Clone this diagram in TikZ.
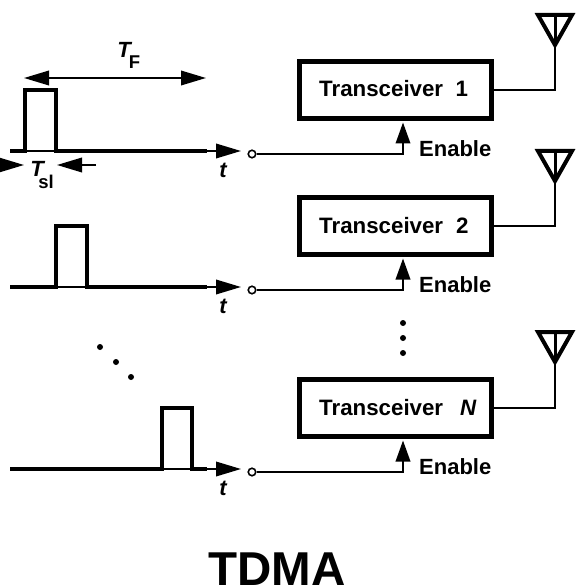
\documentclass[tikz,border=0pt]{standalone}
\usepackage{fontspec}
\setmainfont{Liberation Sans}
\usetikzlibrary{arrows.meta,calc}
\tikzset{
  x=1pt,y=-1pt,
  thickw/.style={line width=4.5pt,line join=miter},
  bigarrow/.style={line width=2pt,-{Triangle[length=25pt,width=14.5pt,sep=0pt]}},
  dblarrow/.style={line width=2pt,{Triangle[length=25pt,width=14.5pt]}-{Triangle[length=25pt,width=14.5pt]}},
  enarrow/.style={line width=2pt,-{Triangle[length=21pt,width=14.5pt]}},
  trx/.style={draw,line width=5pt,minimum width=192pt,minimum height=57pt,inner sep=0pt},
  trxtext/.style={font=\fontsize{22.3}{24}\selectfont\bfseries,inner sep=0pt,anchor=base west},
  lab/.style={font=\fontsize{22}{24}\selectfont\bfseries,inner sep=0pt},
  sym/.style={font=\fontsize{22}{26}\selectfont\bfseries\itshape,inner sep=0pt},
  sub/.style={font=\fontsize{18.5}{22}\selectfont\bfseries,inner sep=0pt},
  term/.style={circle,draw,line width=1.6pt,fill=white,minimum size=7.5pt,inner sep=0pt},
  dotn/.style={circle,fill=black,minimum size=6pt,inner sep=0pt},
  ant/.style={line width=4pt,line join=miter}
}
\begin{document}
\begin{tikzpicture}
\useasboundingbox (0,0) rectangle (578,588);
\clip (0,0) rectangle (578,588);
\foreach \r/\yb/\pl/\pr/\lbl/\at in {a/151/25/56/{Transceiver\hspace{12.5pt}1}/15, b/287/56/87/{Transceiver\hspace{13pt}2}/151, c/469/162/192/{Transceiver\hspace{17pt}\textit{N}}/332}{
  % waveform
  \draw[thickw] (10,\yb) -- (\pl,\yb) -- (\pl,\yb-61) -- (\pr,\yb-61) -- (\pr,\yb) -- (207,\yb);
  \draw[line width=1.5pt] (\pl,\yb) -- (\pr,\yb);
  \coordinate (wave\r) at (205,\yb);
  \coordinate (head\r) at (241,\yb);
  \draw[bigarrow] (wave\r) -- (head\r);
  \node[sym] (t\r) at (223,\yb+19) {t};
  \node[term] (term\r) at (252,\yb+3) {};
  \node[trx] (box\r) at (395.5,\yb-61) {};
  \node[trxtext] (lbl\r) at (319,\yb-54) {\lbl};
  \node[lab,anchor=west] (en\r) at (419,\yb-2) {Enable};
  \coordinate (ben\r) at (403,\yb+3);
  \coordinate (ben2\r) at (box\r.south -| ben\r);
  \draw[line width=2pt] (term\r) -- (ben\r) -- ++(0,-8);
  \draw[enarrow] (ben\r) -- ($(ben2\r)+(0,1.5)$);
  % antenna
  \coordinate (apex\r) at (555,\at+30);
  \coordinate (anttop\r) at (555,\at);
  \coordinate (antfeed\r) at (555,\yb-61);
  \draw[line width=2pt] (box\r.east) -- (antfeed\r) -- (apex\r);
  \draw[ant] (538,\at) -- (572,\at) -- (apex\r) -- cycle;
  \draw[line width=3pt] (anttop\r) -- (apex\r);
}
% T_F
\coordinate (fl) at (24,78);
\coordinate (fr) at (206,78);
\draw[dblarrow] (fl) -- (fr);
\node[sym] (tf) at (124,50) {T};
\node[sub] (tfs) at (134.5,62) {F};
% T_sl
\coordinate (sll) at (-5,165);
\coordinate (slr) at (24,165);
\coordinate (srl) at (57,165);
\coordinate (srr) at (96,165);
\draw[bigarrow] (sll) -- (slr);
\draw[bigarrow] (srr) -- (srl);
\node[sym] (ts) at (37,169) {T};
\node[sub] (tss) at (46,181.5) {sl};
% dots
\foreach \n/\x/\y in {v1/403/323,v2/403/338,v3/403/353,d1/100/347,d2/116/362,d3/131/377}{
  \node[dotn] (\n) at (\x,\y) {};
}
\node[font=\fontsize{47.5}{50}\selectfont\bfseries,inner sep=0pt,anchor=base] (title) at (277,585.5) {TDMA};
\end{tikzpicture}
\end{document}
